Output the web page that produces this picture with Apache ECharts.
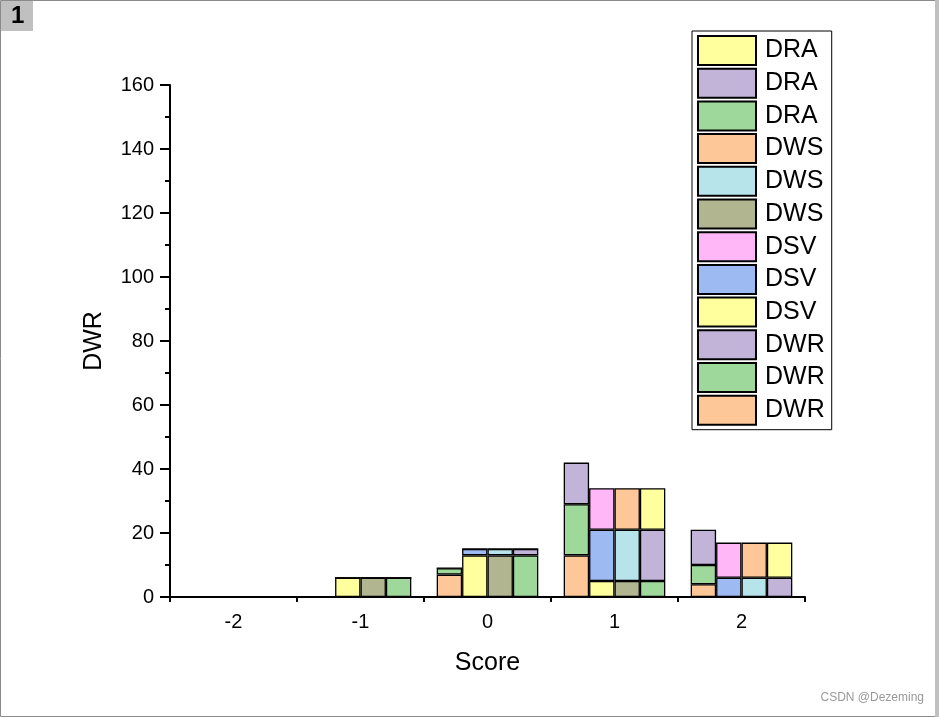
<!DOCTYPE html>
<html>
<head>
<meta charset="utf-8">
<script src="https://cdn.jsdelivr.net/npm/echarts@6/dist/echarts.min.js"></script>
<style>html,body{margin:0;padding:0;background:#fff;}#c{width:939px;height:717px;}</style>
</head>
<body>
<div id="c"></div>
<script>
var categories = ['-2', '-1', '0', '1', '2'];
// DWR stack (bottom -> top)
var dwrOrange = [0, 0, 7, 13, 4];
var dwrGreen  = [0, 0, 2, 16, 6];
var dwrPurple = [0, 0, 0, 13, 11];
// DSV stack
var dsvYellow = [0, 6, 13, 5, 0];
var dsvBlue   = [0, 0, 2, 16, 6];
var dsvPink   = [0, 0, 0, 13, 11];
// DWS stack
var dwsOlive  = [0, 6, 13, 5, 0];
var dwsCyan   = [0, 0, 2, 16, 6];
var dwsOrange = [0, 0, 0, 13, 11];
// DRA stack
var draGreen  = [0, 6, 13, 5, 0];
var draPurple = [0, 0, 2, 16, 6];
var draYellow = [0, 0, 0, 13, 11];

var C = {
  yellow: '#FFFF9E', purple: '#C2B3D8', green: '#9FD89B', orange: '#FDC797',
  cyan: '#B6E4EA', olive: '#B1B590', pink: '#FFB7F8', blue: '#9DBAF3'
};
var Z = '\u200b';
var defs = [
  ['DWR', 'DWR', C.orange, dwrOrange],
  ['DWR' + Z, 'DWR', C.green, dwrGreen],
  ['DWR' + Z + Z, 'DWR', C.purple, dwrPurple],
  ['DSV', 'DSV', C.yellow, dsvYellow],
  ['DSV' + Z, 'DSV', C.blue, dsvBlue],
  ['DSV' + Z + Z, 'DSV', C.pink, dsvPink],
  ['DWS', 'DWS', C.olive, dwsOlive],
  ['DWS' + Z, 'DWS', C.cyan, dwsCyan],
  ['DWS' + Z + Z, 'DWS', C.orange, dwsOrange],
  ['DRA', 'DRA', C.green, draGreen],
  ['DRA' + Z, 'DRA', C.purple, draPurple],
  ['DRA' + Z + Z, 'DRA', C.yellow, draYellow]
];
var series = defs.map(function (d) {
  return {
    name: d[0], type: 'bar', stack: d[1], data: d[3],
    barGap: '0%', barCategoryGap: '20%',
    itemStyle: { color: d[2], borderColor: '#000', borderWidth: 1.3 },
    emphasis: { disabled: true }
  };
});
var legendData = defs.map(function (d) { return { name: d[0], icon: 'rect' }; }).reverse();

var chart = echarts.init(document.getElementById('c'));
var font = 'Arial, "Liberation Sans", sans-serif';
chart.setOption({
  animation: false,
  textStyle: { fontFamily: font },
  grid: { left: 170, right: 134, top: 85, bottom: 120, containLabel: false },
  legend: {
    orient: 'vertical', left: 692, top: 31,
    data: legendData,
    icon: 'rect',
    itemWidth: 58, itemHeight: 29, itemGap: 1.7,
    padding: [4, 7, 4, 5],
    borderColor: '#000', borderWidth: 1,
    textStyle: { fontSize: 25, lineHeight: 29, height: 29, color: '#000', fontFamily: font, padding: [0, 0, 0, 4] },
    selectedMode: false
  },
  xAxis: [
    {
      type: 'category', data: categories, position: 'bottom',
      name: 'Score', nameLocation: 'middle', nameGap: 54,
      nameTextStyle: { fontSize: 25, color: '#000', fontFamily: font },
      axisLine: { lineStyle: { color: '#000', width: 2 } },
      axisTick: { alignWithLabel: true, length: 10, lineStyle: { color: '#000', width: 2 } },
      axisLabel: { fontSize: 20, color: '#000', margin: 15, fontFamily: font }
    },
    {
      type: 'category', data: categories, position: 'bottom',
      axisLine: { show: false },
      axisTick: { show: true, length: 5, lineStyle: { color: '#000', width: 2 } },
      axisLabel: { show: false }
    }
  ],
  yAxis: {
    type: 'value', min: 0, max: 160, interval: 20,
    name: 'DWR', nameLocation: 'middle', nameGap: 63,
    nameTextStyle: { fontSize: 25, color: '#000', fontFamily: font },
    axisLine: { show: true, lineStyle: { color: '#000', width: 2 } },
    axisTick: { show: true, length: 10, lineStyle: { color: '#000', width: 2 } },
    minorTick: { show: true, splitNumber: 2, length: 5, lineStyle: { color: '#000', width: 2 } },
    splitLine: { show: false },
    axisLabel: { fontSize: 20, color: '#000', margin: 16, fontFamily: font }
  },
  graphic: [
    { type: 'rect', shape: { x: 0.5, y: 0.5, width: 935, height: 716 }, style: { fill: 'none', stroke: '#8a8a8a', lineWidth: 1 }, silent: true },
    { type: 'rect', shape: { x: 935, y: 0, width: 4, height: 717 }, style: { fill: '#c0c0c0' }, silent: true },
    { type: 'rect', shape: { x: 1, y: 1, width: 32, height: 30 }, style: { fill: '#c0c0c0' }, silent: true },
    { type: 'text', left: 11, top: 4, style: { text: '1', font: 'bold 24px Arial, "Liberation Sans", sans-serif', fill: '#000' }, silent: true },
    { type: 'text', right: 15, top: 692, style: { text: 'CSDN @Dezeming', font: '12px Arial, "Liberation Sans", sans-serif', fill: '#999' }, silent: true }
  ],
  series: series
});
</script>
</body>
</html>
